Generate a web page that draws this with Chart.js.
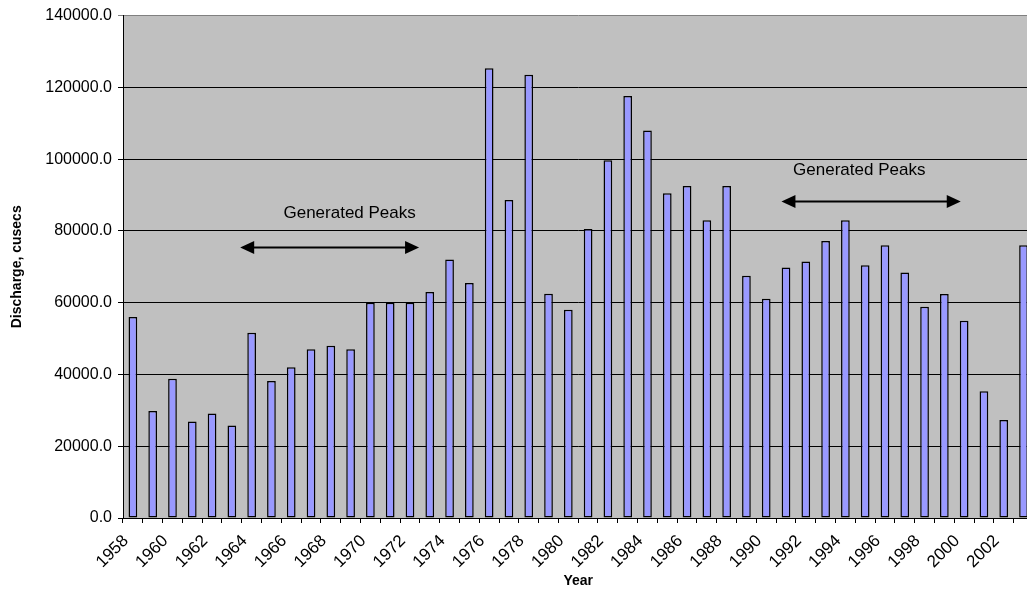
<!DOCTYPE html>
<html>
<head>
<meta charset="utf-8">
<script src="https://cdn.jsdelivr.net/npm/chart.js@4/dist/chart.umd.min.js"></script>
<style>
  html, body { margin: 0; padding: 0; background: #fff; overflow: hidden; }
  #wrap { width: 1046px; height: 590px; }
</style>
</head>
<body>
<div id="wrap"><canvas id="peak-chart" width="1046" height="590"></canvas></div>
<script>
const years = ['1958', '1959', '1960', '1961', '1962', '1963', '1964', '1965', '1966', '1967',
    '1968', '1969', '1970', '1971', '1972', '1973', '1974', '1975', '1976', '1977',
    '1978', '1979', '1980', '1981', '1982', '1983', '1984', '1985', '1986', '1987',
    '1988', '1989', '1990', '1991', '1992', '1993', '1994', '1995', '1996', '1997',
    '1998', '1999', '2000', '2001', '2002', '2003'];

// annual peak discharge, cusecs
const discharge = [56000, 29800, 38800, 26900, 29100, 25800, 51600, 38200, 42000, 47000,
    48000, 47000, 60000, 60000, 60000, 63000, 72000, 65500, 125300, 88600,
    123500, 62500, 58000, 80500, 99700, 117600, 108000, 90500, 92500, 83000,
    92500, 67500, 61100, 69800, 71500, 77200, 83000, 70400, 76000, 68400,
    58900, 62400, 55000, 35300, 27300, 76000];

const yTicks = [0, 20000, 40000, 60000, 80000, 100000, 120000, 140000];

// "Generated Peaks" notes: positions in category index / discharge units
const noteText = ['Generated Peaks', 'Generated Peaks'];
const noteX = [10.95, 36.7];
const noteY = [84900, 96900];
const arrowFrom = [5.42, 32.77];
const arrowTo = [14.46, 41.83];
const arrowY = [75500, 88200];

const FONT = "Arial, 'Liberation Sans', sans-serif";

const plotBack = {
    id: 'plotBack',
    beforeDraw(chart) {
        const a = chart.chartArea;
        const ctx = chart.ctx;
        ctx.save();
        ctx.fillStyle = '#C0C0C0';
        ctx.fillRect(a.left, a.top, a.right - a.left, a.bottom - a.top);
        ctx.restore();
    }
};

function arrowHead(ctx, x, y, dir) {
    ctx.beginPath();
    ctx.moveTo(x, y);
    ctx.lineTo(x - dir * 14, y - 6.5);
    ctx.lineTo(x - dir * 14, y + 6.5);
    ctx.closePath();
    ctx.fill();
}

const notes = {
    id: 'notes',
    afterDatasetsDraw(chart) {
        const ctx = chart.ctx;
        const xs = chart.scales.x;
        const ys = chart.scales.y;
        ctx.save();
        ctx.fillStyle = '#000';
        ctx.strokeStyle = '#000';
        ctx.font = '17px ' + FONT;
        ctx.textAlign = 'center';
        ctx.textBaseline = 'middle';
        noteText.forEach((t, i) => {
            ctx.fillText(t, xs.getPixelForValue(noteX[i]), ys.getPixelForValue(noteY[i]));
        });
        ctx.lineWidth = 2;
        arrowFrom.forEach((f, i) => {
            const x1 = xs.getPixelForValue(f);
            const x2 = xs.getPixelForValue(arrowTo[i]);
            const y = Math.round(ys.getPixelForValue(arrowY[i])) + 0.5;
            ctx.beginPath();
            ctx.moveTo(x1 + 8, y);
            ctx.lineTo(x2 - 8, y);
            ctx.stroke();
            arrowHead(ctx, x1, y, -1);
            arrowHead(ctx, x2, y, 1);
        });
        ctx.restore();
    }
};

const ctx = document.getElementById('peak-chart').getContext('2d');
new Chart(ctx, {
    type: 'bar',
    data: {
        labels: years,
        datasets: [{
            label: 'Discharge',
            data: discharge,
            backgroundColor: '#9999FF',
            borderColor: '#000000',
            borderWidth: 1.5,
            borderSkipped: false,
            categoryPercentage: 1.0,
            barPercentage: 0.44
        }]
    },
    options: {
        responsive: false,
        animation: false,
        layout: { padding: { top: 15, right: 6, bottom: 0, left: 0 } },
        plugins: {
            legend: { display: false },
            tooltip: { enabled: false }
        },
        scales: {
            x: {
                offset: true,
                grid: {
                    offset: true,
                    drawOnChartArea: false,
                    tickLength: 5,
                    color: '#000'
                },
                border: { color: '#000', width: 1 },
                ticks: {
                    autoSkip: false,
                    minRotation: 45,
                    maxRotation: 45,
                    padding: 8,
                    labelOffset: -7,
                    color: '#000',
                    font: { family: FONT, size: 17 },
                    callback: (v, i) => (i % 2 === 0 ? years[i] : '')
                },
                title: {
                    display: true,
                    text: 'Year',
                    color: '#000',
                    font: { family: FONT, size: 14, weight: 'bold' },
                    padding: { top: 0, bottom: 0 }
                },
                afterFit(scale) { scale.height = 72; }
            },
            y: {
                min: 0,
                max: 140000,
                afterBuildTicks(scale) { scale.ticks = yTicks.map(v => ({ value: v })); },
                grid: {
                    tickLength: 5,
                    color: c => (c.tick && c.tick.value === 140000 ? '#808080' : '#000'),
                    lineWidth: 1
                },
                border: { color: '#000', width: 1 },
                ticks: {
                    padding: 6,
                    color: '#000',
                    font: { family: FONT, size: 16 },
                    callback: v => Number(v).toFixed(1)
                },
                title: {
                    display: true,
                    text: 'Discharge, cusecs',
                    color: '#000',
                    font: { family: FONT, size: 14, weight: 'bold' },
                    padding: { top: 9, bottom: 0 }
                },
                afterFit(scale) { scale.width = 123; }
            }
        }
    },
    plugins: [plotBack, notes]
});
</script>
</body>
</html>
